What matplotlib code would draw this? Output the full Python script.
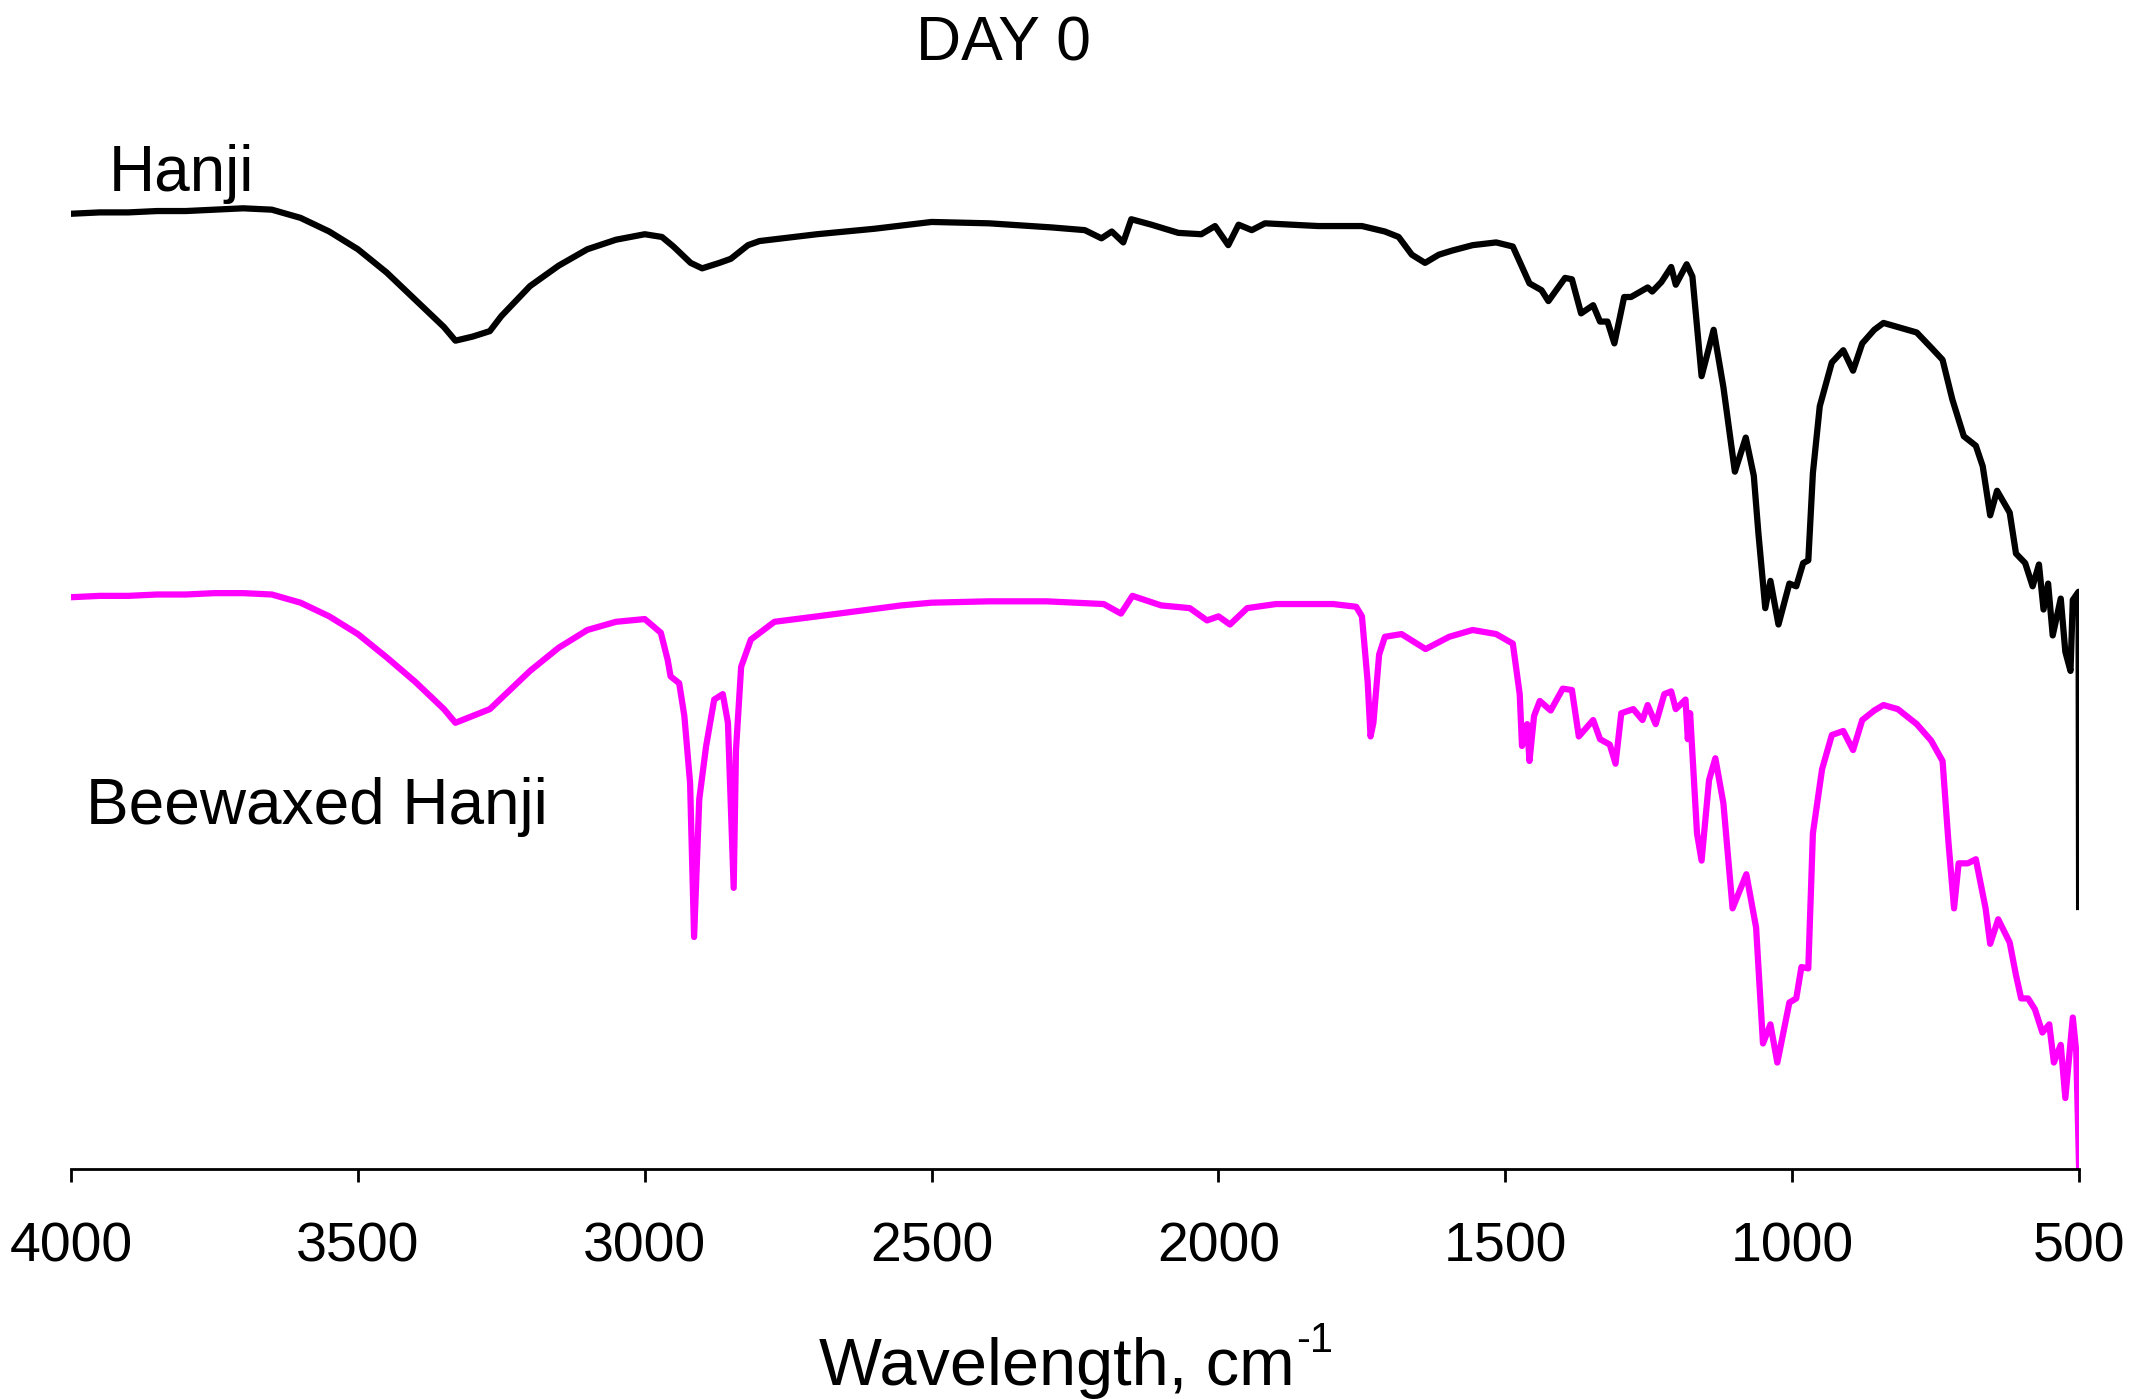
import numpy as np
import matplotlib
matplotlib.use('Agg')
import matplotlib.pyplot as plt

plt.rcParams['font.family'] = ['Liberation Sans', 'DejaVu Sans']

# FTIR spectra (arbitrary transmittance units)
hanji_wn = [4000, 3950, 3900, 3850, 3800, 3750, 3700, 3650, 3600, 3550,
            3500, 3450, 3400, 3350, 3330, 3300, 3270, 3250, 3200, 3150,
            3100, 3050, 3000, 2970, 2950, 2920, 2900, 2870, 2850, 2820,
            2800, 2700, 2600, 2500, 2400, 2291, 2233, 2204, 2186, 2166,
            2152, 2117, 2070, 2030, 2006, 1983, 1965, 1942, 1919, 1826,
            1750, 1710, 1686, 1663, 1640, 1616, 1593, 1557, 1516, 1487,
            1458, 1437, 1425, 1396, 1384, 1368, 1347, 1335, 1322, 1310,
            1293, 1281, 1252, 1244, 1228, 1211, 1203, 1184, 1174, 1158,
            1137, 1120, 1100, 1081, 1067, 1059, 1047, 1038, 1024, 1005,
            993, 981, 972, 964, 952, 931, 911, 894, 878, 857,
            841, 816, 783, 758, 738, 721, 701, 680, 668, 655,
            643, 621, 610, 594, 581, 570, 562, 554, 546, 532,
            524, 515, 511, 501, 500]
hanji_t = [700, 701, 701, 702, 702, 703, 704, 703, 697, 687,
           674, 657, 637, 617, 607, 610, 614, 625, 647, 662,
           674, 681, 685, 683, 676, 664, 660, 664, 667, 677,
           680, 685, 689, 694, 693, 690, 688, 682, 687, 679,
           696, 692, 686, 685, 691, 677, 692, 688, 693, 691,
           691, 687, 683, 670, 664, 670, 673, 677, 679, 676,
           649, 644, 636, 653, 652, 627, 633, 621, 621, 605,
           639, 639, 646, 643, 650, 661, 648, 663, 654, 581,
           615, 573, 511, 536, 508, 466, 411, 431, 399, 429,
           427, 444, 446, 510, 559, 591, 600, 585, 605, 615,
           620, 617, 613, 602, 593, 564, 537, 530, 515, 479,
           497, 481, 451, 444, 427, 443, 410, 429, 391, 418,
           379, 365, 417, 423, 192]

wax_wn = [4000, 3950, 3900, 3850, 3800, 3750, 3700, 3650, 3600, 3550,
          3500, 3450, 3400, 3350, 3330, 3300, 3270, 3250, 3200, 3150,
          3100, 3050, 3000, 2972, 2960, 2955, 2940, 2931, 2921, 2914,
          2905, 2893, 2879, 2864, 2855, 2845, 2841, 2832, 2815, 2774,
          2699, 2553, 2500, 2400, 2300, 2200, 2170, 2150, 2100, 2050,
          2020, 2000, 1980, 1950, 1900, 1800, 1760, 1750, 1740, 1735,
          1730, 1720, 1710, 1681, 1639, 1598, 1557, 1516, 1487, 1475,
          1471, 1462, 1458, 1450, 1440, 1421, 1400, 1384, 1372, 1347,
          1335, 1318, 1308, 1298, 1277, 1261, 1252, 1238, 1223, 1211,
          1203, 1186, 1182, 1178, 1166, 1158, 1145, 1134, 1120, 1104,
          1080, 1063, 1051, 1038, 1026, 1005, 993, 984, 972, 964,
          948, 931, 911, 894, 878, 857, 841, 816, 783, 758,
          738, 728, 718, 710, 694, 680, 663, 655, 641, 621,
          610, 601, 589, 577, 564, 552, 544, 532, 524, 511,
          505, 500]
wax_t = [419, 420, 420, 421, 421, 422, 422, 421, 415, 405,
         392, 375, 357, 337, 327, 332, 337, 345, 365, 382,
         395, 401, 403, 393, 373, 361, 356, 332, 283, 170,
         271, 310, 344, 348, 327, 206, 307, 368, 388, 401,
         405, 413, 415, 416, 416, 414, 407, 420, 413, 411,
         402, 405, 399, 411, 414, 414, 412, 405, 357, 317,
         327, 377, 390, 392, 381, 390, 395, 392, 385, 348,
         310, 326, 299, 332, 343, 336, 352, 351, 317, 329,
         315, 311, 297, 334, 337, 329, 340, 326, 348, 350,
         337, 344, 315, 334, 246, 226, 285, 301, 268, 191,
         216, 177, 92, 106, 78, 122, 125, 148, 147, 246,
         293, 318, 321, 307, 329, 336, 340, 337, 326, 314,
         299, 241, 191, 224, 224, 227, 191, 165, 183, 166,
         142, 125, 125, 117, 100, 106, 78, 91, 52, 111,
         86, 0]

xticks = [4000, 3500, 3000, 2500, 2000, 1500, 1000, 500]

fig = plt.figure(figsize=(21.39, 13.99), dpi=100)
ax = fig.add_axes([0.0332, 0.1644, 0.9388, 0.7384])

ax.plot(hanji_wn, hanji_t, color='black', lw=4.5)
ax.plot(wax_wn, wax_t, color='#ff00ff', lw=4.5)

ax.set_xlim(4000, 500)
ax.set_ylim(0, 757)
ax.set_xticks(xticks)
ax.set_yticks([])
for s in ['left', 'right', 'top']:
    ax.spines[s].set_visible(False)
ax.spines['bottom'].set_linewidth(2)
ax.tick_params(axis='x', direction='out', length=9.5, width=2,
               labelsize=40, pad=28)

fig.text(0.469, 0.957, 'DAY 0', ha='center', va='baseline', fontsize=45)
fig.text(0.051, 0.8635, 'Hanji', ha='left', va='baseline', fontsize=46)
fig.text(0.040, 0.411, 'Beewaxed Hanji', ha='left', va='baseline', fontsize=46)

# x label with a plain hyphen superscript, as in the original
xl = fig.text(0.494, 0.010, 'Wavelength, cm', ha='center', va='baseline',
              fontsize=48)
ax.annotate('-1', xy=(1.0, 0.62), xycoords=xl, xytext=(1, 0),
            textcoords='offset points', fontsize=30, ha='left', va='bottom',
            annotation_clip=False)

fig.savefig('out.png', dpi=100, facecolor='white')
